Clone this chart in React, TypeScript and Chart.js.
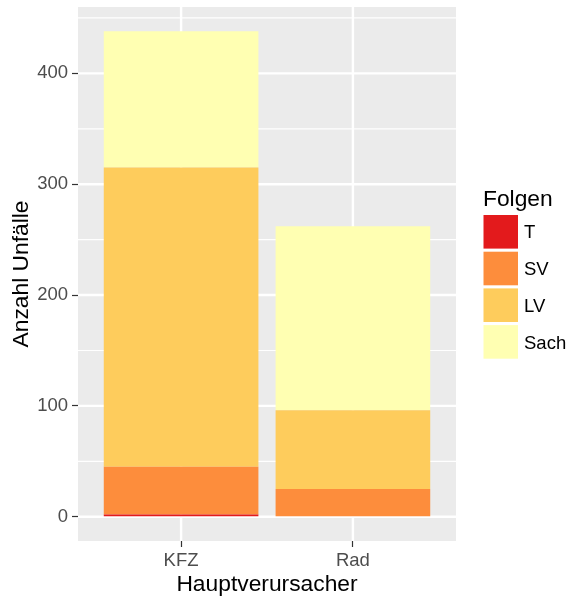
import React, { useEffect, useRef } from "react";
import { Chart, registerables } from "chart.js";

Chart.register(...registerables);

const categories = ["KFZ", "Rad"];
const seriesNames = ["T", "SV", "LV", "Sach"];
const valuesT = [2, 0];
const valuesSV = [43, 25];
const valuesLV = [270, 71];
const valuesSach = [123, 166];
const yTicks = [0, 100, 200, 300, 400];
const colors = ["#E31A1C", "#FD8D3C", "#FECC5C", "#FFFFB2"];

const FONT = "'Liberation Sans', Arial, Helvetica, sans-serif";

export default function App() {
  const ref = useRef<HTMLCanvasElement | null>(null);

  useEffect(() => {
    const canvas = ref.current;
    if (!canvas) return;
    const series = [valuesT, valuesSV, valuesLV, valuesSach];
    const totals = categories.map((_, i) => series.reduce((s, arr) => s + arr[i], 0));
    const maxTotal = Math.max(...totals);
    const yMin = -0.05 * maxTotal;
    const yMax = maxTotal * 1.05;
    const step = yTicks[1] - yTicks[0];
    const minorTicks: number[] = [];
    yTicks.forEach((t) => {
      const m = t + step / 2;
      if (m <= yMax) minorTicks.push(m);
    });

    const panelPlugin = {
      id: "panel",
      beforeDraw(chart: any) {
        const { ctx, chartArea: a, scales } = chart;
        ctx.save();
        ctx.fillStyle = "#EBEBEB";
        ctx.fillRect(a.left, a.top, a.right - a.left, a.bottom - a.top);
        ctx.strokeStyle = "#FFFFFF";
        ctx.lineWidth = 1.2;
        minorTicks.forEach((v) => {
          const y = scales.y.getPixelForValue(v);
          ctx.beginPath();
          ctx.moveTo(a.left, y);
          ctx.lineTo(a.right, y);
          ctx.stroke();
        });
        ctx.lineWidth = 2.4;
        yTicks.forEach((v) => {
          const y = scales.y.getPixelForValue(v);
          ctx.beginPath();
          ctx.moveTo(a.left, y);
          ctx.lineTo(a.right, y);
          ctx.stroke();
        });
        categories.forEach((_, i) => {
          const x = scales.x.getPixelForValue(i + 1);
          ctx.beginPath();
          ctx.moveTo(x, a.top);
          ctx.lineTo(x, a.bottom);
          ctx.stroke();
        });
        ctx.restore();
      },
      afterDraw(chart: any) {
        const { ctx, chartArea: a } = chart;
        ctx.save();
        ctx.fillStyle = "#000000";
        ctx.font = `22.8px ${FONT}`;
        ctx.textAlign = "center";
        ctx.textBaseline = "alphabetic";
        ctx.fillText("Hauptverursacher", (a.left + a.right) / 2, 591);
        ctx.save();
        ctx.translate(28, (a.top + a.bottom) / 2);
        ctx.rotate(-Math.PI / 2);
        ctx.fillText("Anzahl Unfälle", 0, 0);
        ctx.restore();
        // legend
        ctx.textAlign = "left";
        ctx.fillText("Folgen", 483, 206);
        ctx.font = `18.5px ${FONT}`;
        seriesNames.forEach((name, i) => {
          const top = 215 + i * 36.7;
          ctx.fillStyle = colors[i];
          ctx.fillRect(483.5, top, 34.5, 33.6);
          ctx.fillStyle = "#000000";
          ctx.fillText(name, 524, top + 16.8 + 6.6);
        });
        ctx.restore();
      },
    };

    const chart = new Chart(canvas, {
      type: "bar",
      data: {
        datasets: series.map((arr, si) => ({
          label: seriesNames[si],
          data: arr.map((v, i) => ({ x: i + 1, y: v })),
          backgroundColor: colors[si],
          borderWidth: 0,
          barPercentage: 0.9,
          categoryPercentage: 1,
        })),
      },
      options: {
        animation: false,
        responsive: false,
        devicePixelRatio: 1,
        layout: { padding: { left: 0, right: 114, top: 7, bottom: 0 } },
        plugins: { legend: { display: false }, tooltip: { enabled: false } },
        scales: {
          x: {
            type: "linear",
            stacked: true,
            offset: false,
            min: 0.4,
            max: 2.6,
            afterFit: (s: any) => {
              s.height = 56;
              s.paddingLeft = 0;
              s.paddingRight = 0;
            },
            afterBuildTicks: (s: any) => {
              s.ticks = categories.map((_, i) => ({ value: i + 1 }));
            },
            grid: {
              display: true,
              offset: false,
              drawOnChartArea: false,
              drawTicks: true,
              tickLength: 6,
              tickColor: "#333333",
              tickWidth: 1.2,
            },
            border: { display: false },
            ticks: {
              color: "#4D4D4D",
              font: { family: FONT, size: 18.5 },
              padding: 3,
              maxRotation: 0,
              autoSkip: false,
              callback: (v: any) => categories[Math.round(Number(v)) - 1] ?? "",
            },
          },
          y: {
            type: "linear",
            stacked: true,
            min: yMin,
            max: yMax,
            afterFit: (s: any) => {
              s.width = 78;
              s.paddingTop = 0;
              s.paddingBottom = 0;
            },
            afterBuildTicks: (s: any) => {
              s.ticks = yTicks.map((v) => ({ value: v }));
            },
            grid: {
              display: true,
              drawOnChartArea: false,
              drawTicks: true,
              tickLength: 6,
              tickColor: "#333333",
              tickWidth: 1.2,
            },
            border: { display: false },
            ticks: {
              color: "#4D4D4D",
              font: { family: FONT, size: 18.5 },
              padding: 4,
              autoSkip: false,
              callback: (v: any) => String(v),
            },
          },
        },
      },
      plugins: [panelPlugin],
    });
    return () => chart.destroy();
  }, []);

  return (
    <div style={{ position: "absolute", left: 0, top: 0, width: 570, height: 597, background: "#FFFFFF" }}>
      <canvas ref={ref} width={570} height={597} style={{ width: 570, height: 597, display: "block" }} />
    </div>
  );
}
